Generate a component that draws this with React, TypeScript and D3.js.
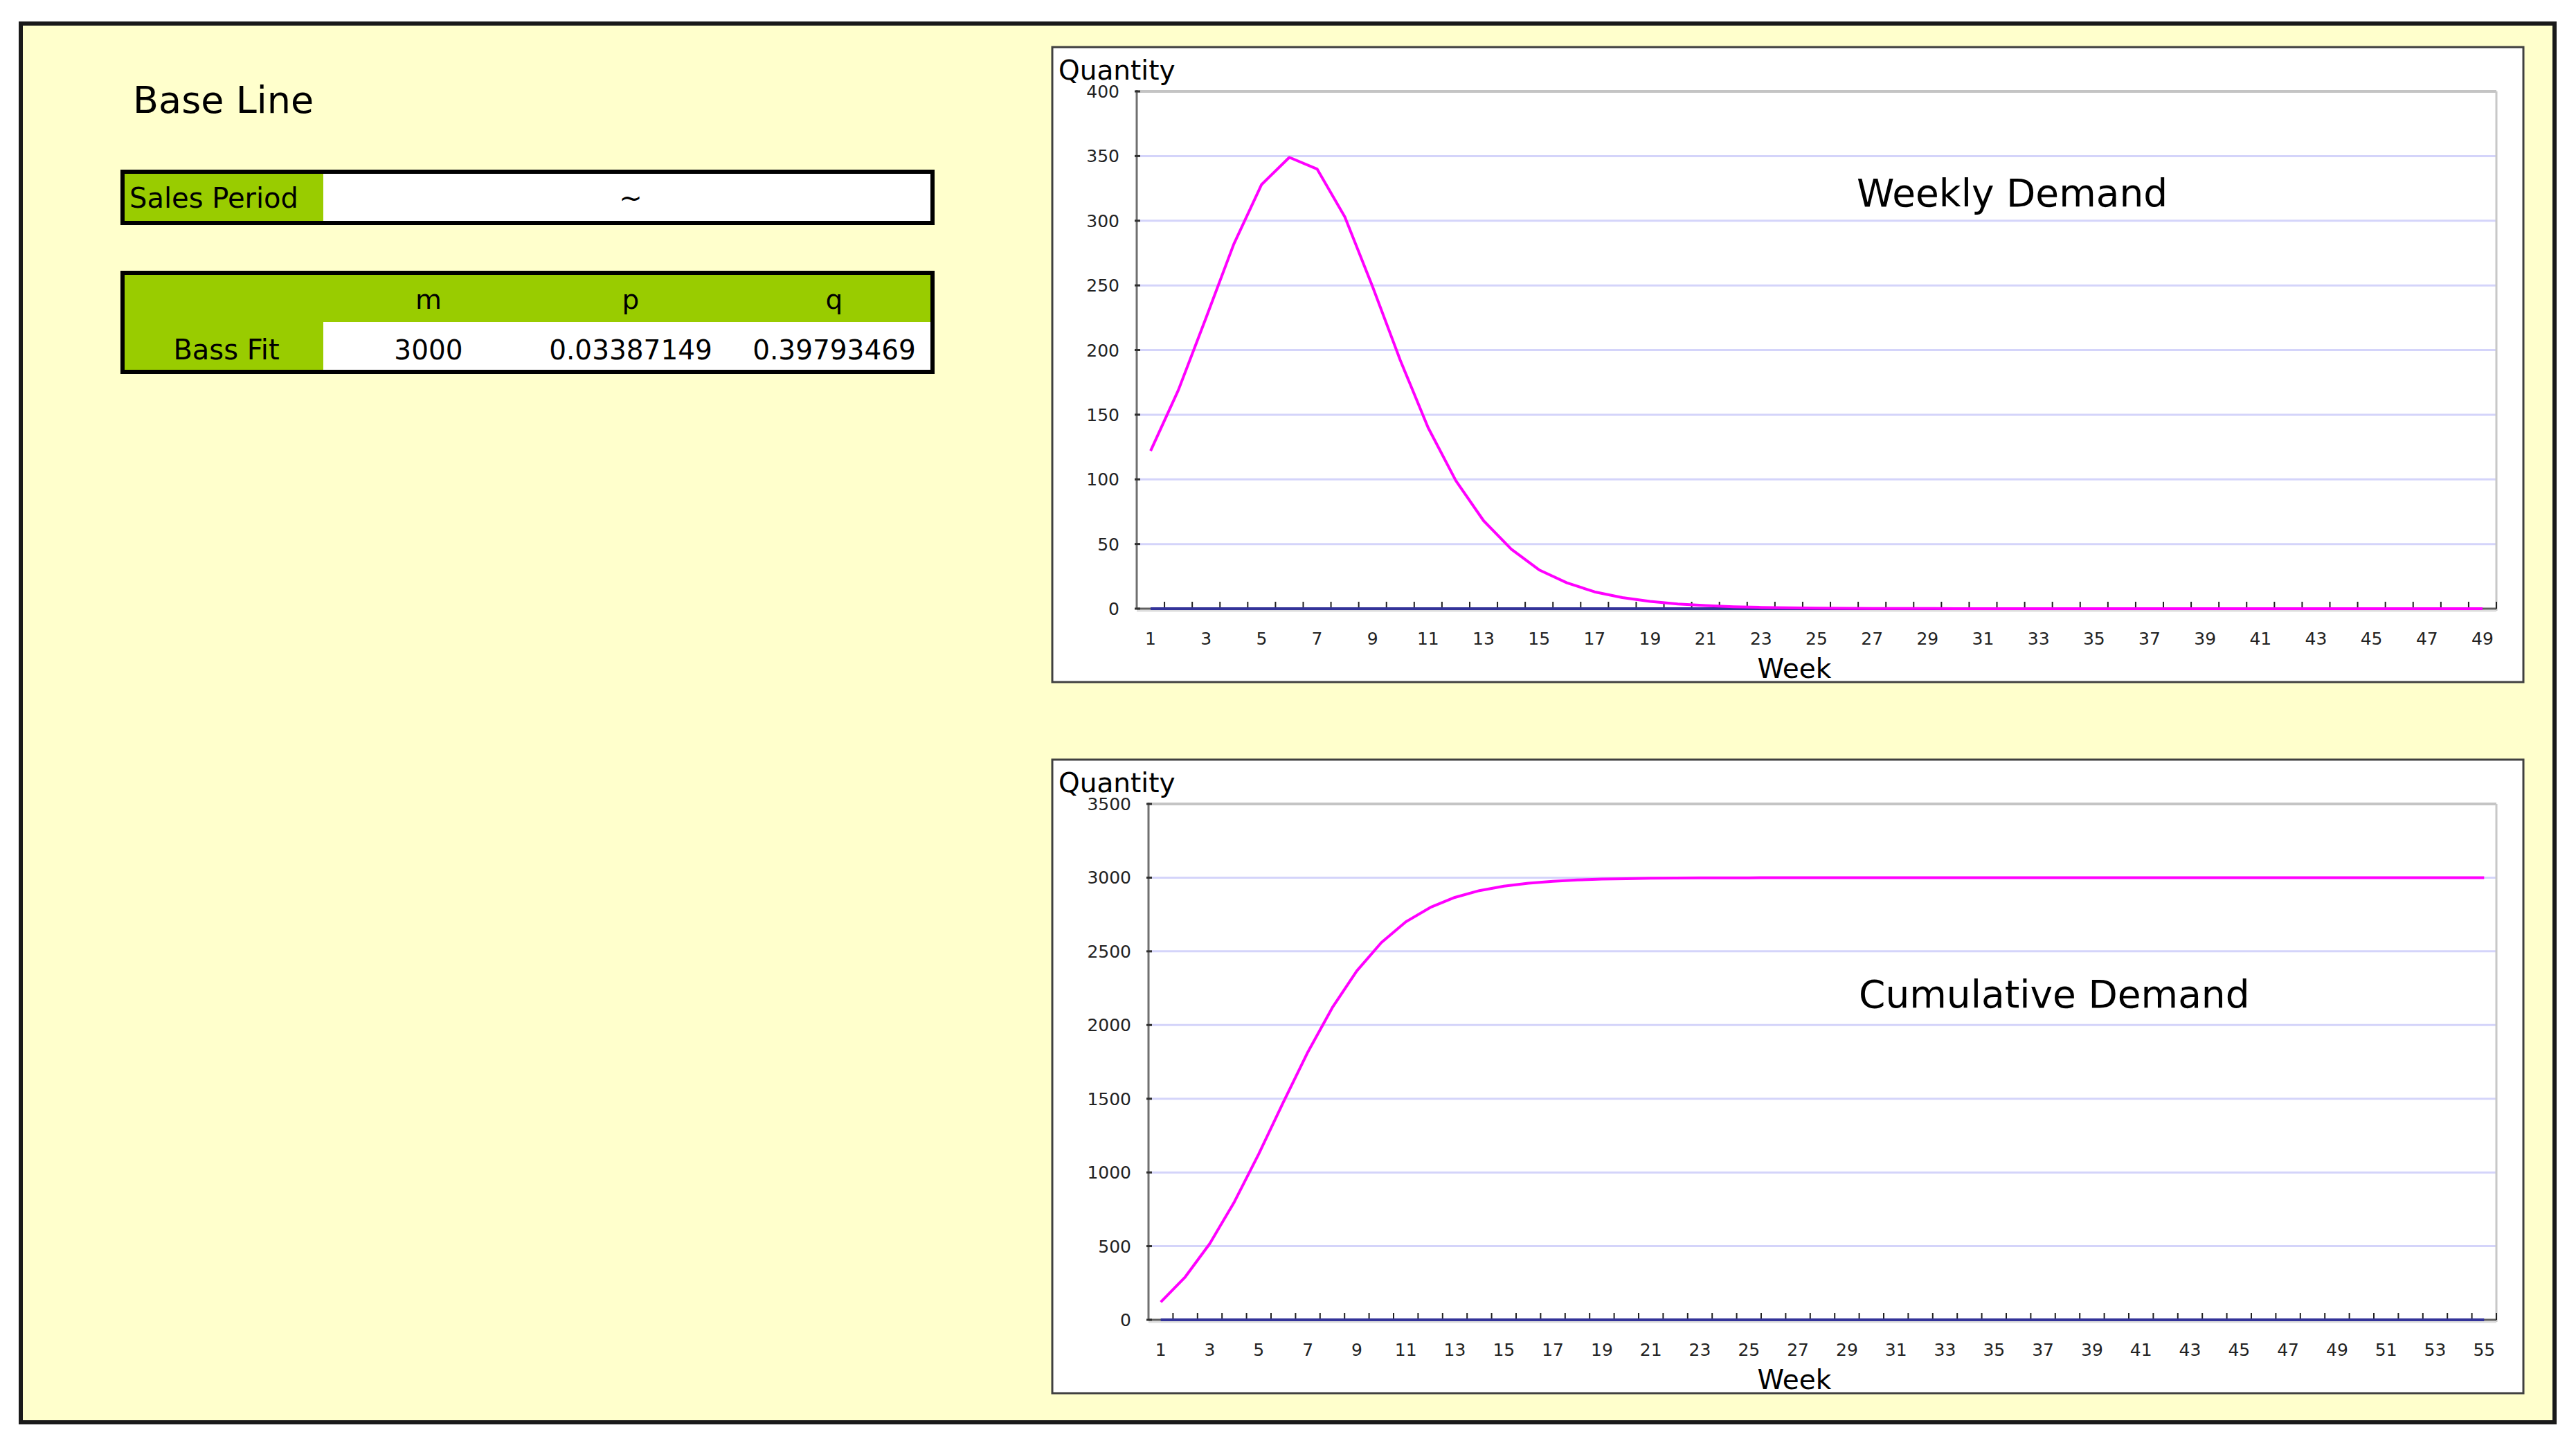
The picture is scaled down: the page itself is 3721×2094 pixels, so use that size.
import React from "react";
import * as d3 from "d3";

// ---- data ----
const weeklyDemand = [
  122, 169, 225, 282, 328, 349, 340, 303, 249, 192,
  140, 99, 68, 46, 30, 20, 13, 8.6, 5.6, 3.6,
  2.4, 1.5, 1.0, 0.7, 0.4, 0.3, 0.2, 0.1, 0.1, 0.05,
  0, 0, 0, 0, 0, 0, 0, 0, 0, 0,
  0, 0, 0, 0, 0, 0, 0, 0, 0,
];
const cumulativeDemand = [
  120, 291, 517, 799, 1126, 1476, 1816, 2118, 2367, 2559,
  2700, 2798, 2866, 2912, 2942, 2962, 2975, 2984, 2990, 2993,
  2996, 2997, 2998, 2999, 2999, 3000, 3000, 3000, 3000, 3000,
  3000, 3000, 3000, 3000, 3000, 3000, 3000, 3000, 3000, 3000,
  3000, 3000, 3000, 3000, 3000, 3000, 3000, 3000, 3000, 3000,
  3000, 3000, 3000, 3000, 3000,
];
const weeklyTicks = [0, 50, 100, 150, 200, 250, 300, 350, 400];
const cumulativeTicks = [0, 500, 1000, 1500, 2000, 2500, 3000, 3500];
const paramHeaders = ["m", "p", "q"];
const paramValues = ["3000", "0.03387149", "0.39793469"];
const pageTitle = "Base Line";
const salesPeriodLabel = "Sales Period";
const salesPeriodValue = "~";
const bassFitLabel = "Bass Fit";

const FONT = "'DejaVu Sans', Verdana, sans-serif";
const GREEN = "#99cc00";
const PINK = "#ff00ff";
const NAVY = "#333399";
const GRID = "#d4d4fa";

type Box = { x: number; y: number; w: number; h: number };
type Plot = { left: number; right: number; top: number; bottom: number };

function LineChart(props: {
  box: Box;
  plot: Plot;
  values: number[];
  yTicks: number[];
  title: string;
  titleX: number;
  titleY: number;
  weekX: number;
  weekY: number;
}) {
  const { box, plot, values, yTicks, title, titleX, titleY, weekX, weekY } = props;
  const weeks = values.map((_, i) => String(i + 1));
  const x = d3
    .scaleBand<string>()
    .domain(weeks)
    .range([plot.left, plot.right])
    .paddingInner(0)
    .paddingOuter(0);
  const yMax = yTicks[yTicks.length - 1];
  const y = d3.scaleLinear().domain([0, yMax]).range([plot.bottom, plot.top]);
  const cx = (w: string) => (x(w) as number) + x.bandwidth() / 2;
  const line = d3
    .line<number>()
    .x((_, i) => cx(weeks[i]))
    .y((d) => y(d));
  const zeroPath = line(values.map(() => 0)) || "";
  const seriesPath = line(values) || "";
  const boundaries = weeks.map((w) => (x(w) as number) + x.bandwidth());

  return (
    <g>
      <rect x={box.x} y={box.y} width={box.w} height={box.h} fill="#ffffff" stroke="#404040" strokeWidth={3} />
      <text x={box.x + 9} y={box.y + 47} fontFamily={FONT} fontSize={39} fill="#000">
        Quantity
      </text>
      {/* gridlines */}
      {yTicks
        .filter((t) => t > 0 && t < yMax)
        .map((t) => (
          <line key={"g" + t} x1={plot.left} x2={plot.right} y1={y(t)} y2={y(t)} stroke={GRID} strokeWidth={3} />
        ))}
      {/* plot area border top / right */}
      <line x1={plot.left} x2={plot.right} y1={plot.top} y2={plot.top} stroke="#c4c4c4" strokeWidth={4} />
      <line x1={plot.right} x2={plot.right} y1={plot.top} y2={plot.bottom + 3} stroke="#c8c8c8" strokeWidth={3} />
      <line x1={plot.left} x2={plot.right} y1={plot.bottom + 3} y2={plot.bottom + 3} stroke="#dddddd" strokeWidth={3} />
      {/* axes */}
      <line x1={plot.left} x2={plot.left} y1={plot.top - 2} y2={plot.bottom + 1} stroke="#707070" strokeWidth={3} />
      <line x1={plot.left} x2={plot.right} y1={plot.bottom} y2={plot.bottom} stroke="#606060" strokeWidth={3} />
      {/* y ticks + labels */}
      {yTicks.map((t) => (
        <g key={"y" + t}>
          <line x1={plot.left - 3} x2={plot.left + 5} y1={y(t)} y2={y(t)} stroke="#303030" strokeWidth={3} />
          <text
            x={plot.left - 25}
            y={y(t) + 9}
            textAnchor="end"
            fontFamily={FONT}
            fontSize={25}
            fill="#222"
          >
            {t}
          </text>
        </g>
      ))}
      {/* x ticks */}
      {boundaries.map((b, i) => (
        <line key={"xt" + i} x1={b} x2={b} y1={plot.bottom - 10} y2={plot.bottom} stroke="#202020" strokeWidth={2} />
      ))}
      {/* zero series + demand series */}
      <path d={zeroPath} fill="none" stroke={NAVY} strokeWidth={4} />
      <path d={seriesPath} fill="none" stroke={PINK} strokeWidth={4} strokeLinejoin="round" />
      {/* x labels */}
      {weeks
        .filter((_, i) => i % 2 === 0)
        .map((w) => (
          <text
            key={"xl" + w}
            x={cx(w)}
            y={plot.bottom + 52}
            textAnchor="middle"
            fontFamily={FONT}
            fontSize={25}
            fill="#222"
          >
            {w}
          </text>
        ))}
      <text x={weekX} y={weekY} textAnchor="middle" fontFamily={FONT} fontSize={39} fill="#000">
        Week
      </text>
      <text x={titleX} y={titleY} fontFamily={FONT} fontSize={55} fill="#000">
        {title}
      </text>
    </g>
  );
}

function ParamTables() {
  const left = 174;
  const right = 1350;
  const split = 467;
  const colX = [619, 911, 1205];
  return (
    <g fontFamily={FONT} fill="#000">
      <text x={192} y={163} fontSize={54}>
        {pageTitle}
      </text>
      {/* Sales period */}
      <rect x={left} y={245} width={right - left} height={80} fill="#ffffff" />
      <rect x={left} y={245} width={split - left} height={80} fill={GREEN} />
      <rect x={left + 3} y={248} width={right - left - 6} height={74} fill="none" stroke="#000" strokeWidth={6} />
      <text x={187} y={300} fontSize={40}>
        {salesPeriodLabel}
      </text>
      <text x={colX[1]} y={300} fontSize={40} textAnchor="middle">
        {salesPeriodValue}
      </text>
      {/* Bass fit */}
      <rect x={left} y={391} width={right - left} height={149} fill={GREEN} />
      <rect x={split} y={465} width={right - 3 - split} height={72} fill="#ffffff" />
      <rect x={left + 3} y={394} width={right - left - 6} height={143} fill="none" stroke="#000" strokeWidth={6} />
      {paramHeaders.map((h, i) => (
        <text key={h} x={colX[i]} y={446} fontSize={39} textAnchor="middle">
          {h}
        </text>
      ))}
      <text x={327} y={519} fontSize={40} textAnchor="middle">
        {bassFitLabel}
      </text>
      {paramValues.map((v, i) => (
        <text key={v} x={colX[i]} y={519} fontSize={39} textAnchor="middle">
          {v}
        </text>
      ))}
    </g>
  );
}

export default function App() {
  return (
    <svg
      width={3721}
      height={2094}
      style={{ position: "fixed", left: 0, top: 0, display: "block", background: "#ffffff" }}
    >
      <rect x={0} y={0} width={3721} height={2094} fill="#ffffff" />
      <rect x={30} y={34} width={3660} height={2020} fill="#ffffcc" stroke="#1a1a1a" strokeWidth={6} />
      <ParamTables />
      <LineChart
        box={{ x: 1520, y: 68, w: 2125, h: 917 }}
        plot={{ left: 1642, right: 3606, top: 132, bottom: 879 }}
        values={weeklyDemand}
        yTicks={weeklyTicks}
        title="Weekly Demand"
        titleX={2682}
        titleY={298}
        weekX={2592}
        weekY={979}
      />
      <LineChart
        box={{ x: 1520, y: 1097, w: 2125, h: 915 }}
        plot={{ left: 1659, right: 3606, top: 1161, bottom: 1906 }}
        values={cumulativeDemand}
        yTicks={cumulativeTicks}
        title="Cumulative Demand"
        titleX={2685}
        titleY={1455}
        weekX={2592}
        weekY={2006}
      />
    </svg>
  );
}
